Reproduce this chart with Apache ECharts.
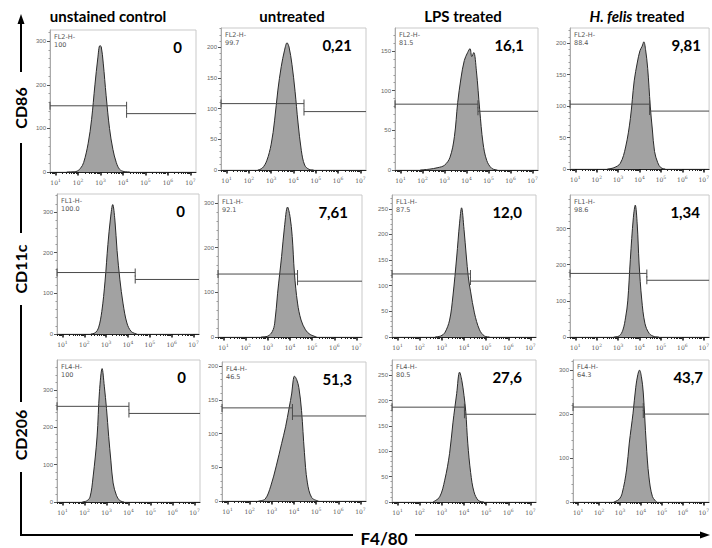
<!DOCTYPE html>
<html lang="en">
<head>
<meta charset="utf-8">
<title>F4/80 flow histograms</title>
<script src="https://cdn.jsdelivr.net/npm/echarts@6.0.0/dist/echarts.min.js"></script>
<style>
  body { margin: 0; background: #fff; }
</style>
</head>
<body>
<div id="main" style="width: 712px; height: 548px;"></div>
<script type="text/javascript">

// column headers, row markers, channel names
const columns = ['unstained control', 'untreated', 'LPS treated', '{i|H. felis} treated'];
const markers = ['CD86', 'CD11c', 'CD206'];
const channels = ['FL2-H-', 'FL1-H-', 'FL4-H-'];

// percentages printed in each panel
const gatedPct = [
  ['100', '99.7', '81.5', '88.4'],
  ['100.0', '92.1', '87.5', '98.6'],
  ['100', '46.5', '80.5', '64.3']
];
const positivePct = [
  ['0', '0,21', '16,1', '9,81'],
  ['0', '7,61', '12,0', '1,34'],
  ['0', '51,3', '27,6', '43,7']
];

// gates: x in log10 units, y in counts (left gate / right gate)
const gateX = [
  [4.16, 4.47, 4.52, 4.47],
  [4.33, 4.34, 4.29, 4.34],
  [4.02, 3.93, 4.02, 4.11]
];
const gateLeftY = [
  [152, 108, 83, 103],
  [151, 141, 123, 176],
  [256, 138, 187, 216]
];
const gateRightY = [
  [134, 95, 74, 92],
  [134, 125, 109, 157],
  [237, 126, 173, 200]
];

// y axis ranges
const yMax = [
  [326, 231, 179, 224],
  [344, 318, 277, 393],
  [380, 206, 280, 323]
];
const yStep = [
  [100, 50, 50, 50],
  [100, 100, 50, 100],
  [100, 50, 50, 100]
];

const xTicks = [1, 2, 3, 4, 5, 6, 7];

// histograms: [log10 intensity, count]
const cd86Unstained = [[1.5,0],[1.9,1],[2.1,8],[2.25,22],[2.45,66],[2.6,120],[2.75,200],[2.88,262],[2.97,290],[3.03,288],[3.12,250],[3.25,175],[3.4,100],[3.55,52],[3.7,22],[3.85,6],[4.05,1],[4.3,0]];
const cd86Untreated = [[2.4,0],[2.6,3],[2.8,15],[3.0,42],[3.15,80],[3.3,130],[3.45,168],[3.6,195],[3.71,207],[3.8,200],[3.93,172],[4.07,128],[4.2,78],[4.35,32],[4.5,8],[4.7,1],[4.9,0]];
const cd86Lps = [[1.9,0],[2.3,1],[2.7,3],[3.0,6],[3.25,16],[3.45,42],[3.6,85],[3.75,116],[3.9,138],[4.05,148],[4.16,153],[4.24,143],[4.33,148],[4.45,125],[4.6,76],[4.75,34],[4.92,12],[5.15,2],[5.4,0]];
const cd86Felis = [[2.5,0],[2.8,2],[3.1,9],[3.35,35],[3.57,80],[3.75,140],[3.9,170],[4.02,188],[4.12,195],[4.2,202],[4.28,190],[4.38,160],[4.5,100],[4.6,62],[4.7,28],[4.85,10],[5.0,2],[5.2,0]];

const cd11cUnstained = [[2.3,0],[2.5,3],[2.65,15],[2.8,55],[2.95,130],[3.08,220],[3.2,285],[3.3,318],[3.4,280],[3.5,205],[3.63,133],[3.77,76],[3.95,27],[4.15,6],[4.4,0]];
const cd11cUntreated = [[2.7,0],[3.0,2],[3.2,12],[3.31,31],[3.44,98],[3.62,180],[3.75,246],[3.89,291],[4.0,270],[4.1,225],[4.2,143],[4.34,76],[4.5,38],[4.7,16],[4.9,6],[5.2,0]];
const cd11cLps = [[2.7,0],[2.95,2],[3.13,8],[3.35,33],[3.5,80],[3.67,156],[3.8,222],[3.89,252],[4.0,210],[4.1,160],[4.2,115],[4.3,88],[4.47,47],[4.7,14],[4.92,2],[5.15,0]];
const cd11cFelis = [[2.8,0],[3.05,3],[3.22,19],[3.35,55],[3.45,100],[3.57,215],[3.71,330],[3.8,365],[3.89,313],[3.98,202],[4.1,105],[4.25,38],[4.45,10],[4.7,1],[4.9,0]];

const cd206Unstained = [[1.9,0],[2.1,3],[2.25,13],[2.39,67],[2.57,174],[2.68,295],[2.8,357],[2.9,310],[3.0,250],[3.1,175],[3.2,110],[3.3,51],[3.45,18],[3.6,4],[3.8,0]];
const cd206Untreated = [[2.4,0],[2.7,3],[2.95,22],[3.2,52],[3.44,85],[3.62,110],[3.78,138],[3.9,160],[3.96,178],[4.02,185],[4.12,180],[4.22,168],[4.34,134],[4.47,72],[4.6,28],[4.8,5],[5.1,0]];
const cd206Lps = [[2.6,0],[2.9,10],[3.13,43],[3.35,96],[3.5,156],[3.67,214],[3.8,256],[3.9,240],[4.0,210],[4.08,178],[4.17,116],[4.3,58],[4.45,20],[4.65,3],[4.9,0]];
const cd206Felis = [[2.7,0],[2.95,6],[3.1,20],[3.31,73],[3.44,134],[3.62,202],[3.75,261],[3.85,290],[3.93,300],[4.02,285],[4.11,248],[4.25,134],[4.38,57],[4.55,12],[4.75,0]];

const histograms = [
  [cd86Unstained, cd86Untreated, cd86Lps, cd86Felis],
  [cd11cUnstained, cd11cUntreated, cd11cLps, cd11cFelis],
  [cd206Unstained, cd206Untreated, cd206Lps, cd206Felis]
];

// panel boxes in pixels
const boxLeft = [[50, 221, 395, 570], [57, 218, 392, 570], [57, 222, 392, 573]];
const boxTop = [[30, 28, 28, 28], [194, 195, 195, 195], [360, 362, 360, 360]];
const boxWidth = [[146, 145, 143, 145], [142, 144, 144, 144], [143, 144, 144, 144]];
const boxBottom = [[172, 170, 170, 169], [334, 337, 337, 337], [502, 501, 502, 502]];

const X_MIN = 0.75, X_MAX = 7.25;
const font = 'Lato';

// log minor ticks
const minorX = [];
for (let n = 0; n < 8; n++) {
  for (let m = 2; m < 10; m++) {
    const v = n + Math.log10(m);
    if (v > X_MIN && v < X_MAX) minorX.push(v);
  }
}

const grids = [], xAxes = [], yAxes = [], series = [], graphics = [];

let k = 0;
for (let r = 0; r < 3; r++) {
  for (let c = 0; c < 4; c++) {
    const L = boxLeft[r][c], T = boxTop[r][c], W = boxWidth[r][c], H = boxBottom[r][c] - T;
    grids.push({
      left: L, top: T, width: W, height: H,
      show: true, borderColor: '#c9c9c9', borderWidth: 1, backgroundColor: '#fff'
    });
    xAxes.push({
      gridIndex: k, type: 'value', position: 'bottom', min: X_MIN, max: X_MAX,
      axisLine: { onZero: false, lineStyle: { color: '#222', width: 1 } },
      splitLine: { show: false },
      axisTick: { customValues: xTicks, length: 3.5, lineStyle: { color: '#111', width: 1.5 } },
      axisLabel: {
        customValues: xTicks, fontSize: 6, color: '#555', margin: 6, fontFamily: 'DejaVu Serif',
        formatter: v => '10{s|' + v + '}',
        rich: { s: { fontSize: 4.5, padding: [0, 0, 4, 0], color: '#555', fontFamily: 'DejaVu Serif' } }
      }
    });
    xAxes.push({
      gridIndex: k, type: 'value', position: 'bottom', min: X_MIN, max: X_MAX,
      axisLine: { show: false }, axisLabel: { show: false }, splitLine: { show: false },
      axisTick: { customValues: minorX, length: 2, lineStyle: { color: '#222' } }
    });
    const majors = [];
    for (let v = 0; v <= yMax[r][c]; v += yStep[r][c]) majors.push(v);
    yAxes.push({
      gridIndex: k, type: 'value', min: 0, max: yMax[r][c], interval: yStep[r][c],
      axisLine: { show: true, lineStyle: { color: '#aaa' } },
      axisTick: { show: true, customValues: majors, length: 3, lineStyle: { color: '#555' } },
      minorTick: { show: true, splitNumber: 5, length: 1.5, lineStyle: { color: '#999' } },
      axisLabel: { customValues: majors, fontSize: 6, color: '#666', margin: 4 },
      splitLine: { show: false }
    });

    // histogram
    series.push({
      type: 'line', xAxisIndex: 2 * k, yAxisIndex: k, data: histograms[r][c],
      smooth: 0.35, symbol: 'none', silent: true, z: 2,
      lineStyle: { color: '#2a2a2a', width: 1 },
      areaStyle: { color: '#a2a2a2', opacity: 1 }
    });
    // gates
    series.push({
      type: 'line', xAxisIndex: 2 * k, yAxisIndex: k, silent: true, z: 3,
      data: [[X_MIN, gateLeftY[r][c]], [gateX[r][c], gateLeftY[r][c]]],
      symbol: 'rect', symbolSize: [1, 8],
      lineStyle: { color: '#4a4a4a', width: 1 }, itemStyle: { color: '#4a4a4a' }
    });
    series.push({
      type: 'line', xAxisIndex: 2 * k, yAxisIndex: k, silent: true, z: 3,
      data: [{ value: [gateX[r][c], gateRightY[r][c]], symbol: 'rect' },
             { value: [X_MAX, gateRightY[r][c]], symbol: 'none' }],
      symbolSize: [1, 8],
      lineStyle: { color: '#4a4a4a', width: 1 }, itemStyle: { color: '#4a4a4a' }
    });

    // panel texts
    graphics.push({
      type: 'text', x: L + 4, y: T + 3, z: 10,
      style: { text: channels[r] + '\n' + gatedPct[r][c], fontSize: 6.5, lineHeight: 8,
               fontFamily: 'DejaVu Sans', fill: '#555' }
    });
    graphics.push({
      type: 'text', x: L + W - 14, y: T + 17, z: 10,
      style: { text: positivePct[r][c], fontSize: 15, fontWeight: 'bold', fontFamily: font,
               fill: '#000', align: 'right', verticalAlign: 'middle' }
    });
    k++;
  }
}

// column titles
const titleX = [108, 292, 463, 637];
columns.forEach((t, i) => {
  graphics.push({
    type: 'text', x: titleX[i], y: 16,
    style: { text: t, fontSize: 15, fontWeight: 'bold', fontFamily: font, fill: '#000',
             align: 'center', verticalAlign: 'middle',
             rich: { i: { fontSize: 15, fontWeight: 'bold', fontStyle: 'italic', fontFamily: font, fill: '#000' } } }
  });
});

// row labels on the vertical axis arrow
const markerY = [108, 269, 435];
markers.forEach((t, i) => {
  graphics.push({
    type: 'text', x: 20, y: markerY[i], rotation: Math.PI / 2,
    style: { text: t, fontSize: 16, fontWeight: 'bold', fontFamily: font, fill: '#000',
             align: 'center', verticalAlign: 'middle' }
  });
});

// outer arrows, drawn as filled bars so they come out solid black
const bar = { fill: '#000' };
[[22, 72], [143, 233], [305, 402], [472, 536]].forEach(s => {
  graphics.push({ type: 'rect', shape: { x: 20, y: s[0], width: 2, height: s[1] - s[0] }, style: bar });
});
graphics.push({ type: 'polygon', shape: { points: [[21, 14], [17.5, 24], [24.5, 24]] }, style: bar });
graphics.push({ type: 'rect', shape: { x: 20, y: 534, width: 333, height: 2 }, style: bar });
graphics.push({ type: 'rect', shape: { x: 415, y: 534, width: 288, height: 2 }, style: bar });
graphics.push({ type: 'polygon', shape: { points: [[710, 535], [700, 531.5], [700, 538.5]] }, style: bar });
graphics.push({
  type: 'text', x: 384, y: 538,
  style: { text: 'F4/80', fontSize: 17, fontWeight: 'bold', fontFamily: font, fill: '#000',
           align: 'center', verticalAlign: 'middle' }
});

const myChart = echarts.init(document.getElementById('main'), null, { renderer: 'svg' });
myChart.setOption({
  animation: false,
  backgroundColor: '#fff',
  grid: grids,
  xAxis: xAxes,
  yAxis: yAxes,
  series: series,
  graphic: graphics
});
</script>
</body>
</html>
